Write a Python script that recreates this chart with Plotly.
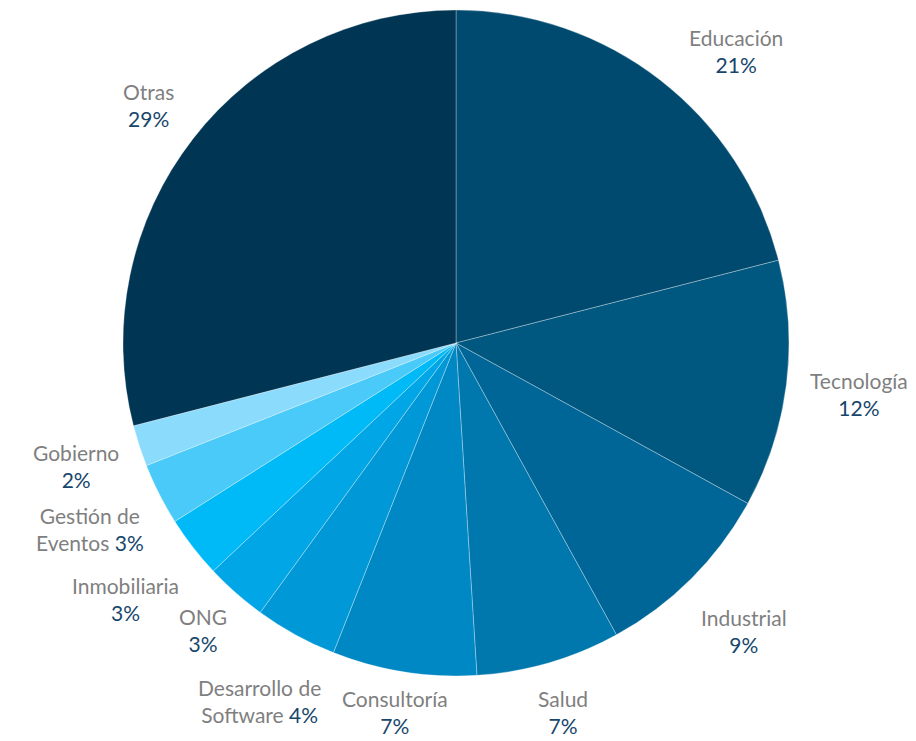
import math
import plotly.graph_objects as go

# Share of respondents by sector (percent)
sectores = ["Educación", "Tecnología", "Industrial", "Salud", "Consultoría",
            "Desarrollo de Software", "ONG", "Inmobiliaria", "Gestión de Eventos",
            "Gobierno", "Otras"]
valores = [21, 12, 9, 7, 7, 4, 3, 3, 3, 2, 29]
# Label text as laid out (line breaks where the name wraps)
etiquetas = ["Educación", "Tecnología", "Industrial", "Salud", "Consultoría",
             "Desarrollo de<br>Software", "ONG", "Inmobiliaria", "Gestión de<br>Eventos",
             "Gobierno", "Otras"]
colores = ["#004A6F", "#00577F", "#006697", "#0077AD", "#0088C4", "#0098D6",
           "#00A6E6", "#00BAF8", "#4ACAF8", "#8ADBFC", "#003553"]

W, H = 916, 741
CX, CY, R = 456, 343, 333          # pie centre / radius in pixels
FONT = 21
LINE_H = 28                         # approximate annotation line height
GAP = 18                            # gap between pie edge and label box
ANGLE_NUDGE = {"Educación": 6}      # degrees, keeps the top label clear of the edge

fig = go.Figure(go.Pie(
    labels=sectores,
    values=valores,
    sort=False,
    direction="clockwise",
    rotation=0,
    textinfo="none",
    hoverinfo="label+percent",
    marker=dict(colors=colores, line=dict(color="rgba(255,255,255,0.3)", width=1)),
    domain=dict(x=[(CX - R) / W, (CX + R) / W],
                y=[(H - CY - R) / H, (H - CY + R) / H]),
    showlegend=False,
))

# Labels placed outside each slice along its mid-angle; the box is pushed out so
# its nearest side sits GAP pixels beyond the rim.
total = sum(valores)
acum = 0
anotaciones = []
for sector, nombre, v in zip(sectores, etiquetas, valores):
    mid_deg = (acum + v / 2) / total * 360 + ANGLE_NUDGE.get(sector, 0)
    acum += v
    mid = math.radians(mid_deg)
    pct = f"{v / total:.0%}"
    gris = "<span style='color:#7F7F7F'>"
    if "<br>" in nombre:
        primera, segunda = nombre.split("<br>")
        texto = f"{gris}{primera}</span><br>{gris}{segunda}</span> {pct}"
        ancho = max(len(primera), len(segunda) + 1 + len(pct)) * 0.5 * FONT
    else:
        texto = f"{gris}{nombre}</span><br>{pct}"
        ancho = max(len(nombre), len(pct)) * 0.5 * FONT
    hw, hh = ancho / 2, LINE_H
    d = R + GAP + hw * abs(math.sin(mid)) + hh * abs(math.cos(mid))
    px = CX + d * math.sin(mid)
    py = CY - d * math.cos(mid)
    py = min(max(py, hh + 2), H - hh - 1)
    anotaciones.append(dict(
        x=px / W, y=1 - py / H, xref="paper", yref="paper",
        text=texto, showarrow=False, align="center",
        xanchor="center", yanchor="middle",
        font=dict(family="Lato, 'Open Sans', sans-serif", size=FONT, color="#17466B"),
    ))

fig.update_layout(
    width=W, height=H,
    margin=dict(l=0, r=0, t=0, b=0),
    paper_bgcolor="white",
    plot_bgcolor="white",
    annotations=anotaciones,
)

fig.write_html("out.html")
